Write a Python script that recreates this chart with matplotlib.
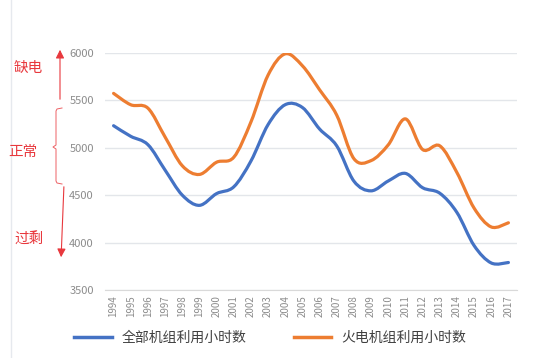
import matplotlib.pyplot as plt
from matplotlib.path import Path
from matplotlib.patches import PathPatch, FancyArrowPatch
import matplotlib.lines as mlines

plt.rcParams['font.family'] = ['Noto Sans CJK SC', 'DejaVu Sans']

years = list(range(1994, 2018))
all_units = [5233, 5121, 5033, 4765, 4501, 4393, 4517, 4588, 4860, 5245, 5455, 5425,
             5198, 5020, 4648, 4546, 4650, 4730, 4579, 4521, 4318, 3969, 3785, 3790]
thermal = [5574, 5454, 5418, 5114, 4811, 4719, 4848, 4900, 5272, 5767, 5991, 5865,
           5612, 5344, 4885, 4865, 5031, 5305, 4982, 5021, 4739, 4364, 4165, 4209]
y_ticks = [3500, 4000, 4500, 5000, 5500, 6000]
series_names = ["全部机组利用小时数", "火电机组利用小时数"]
zone_labels = ["缺电", "正常", "过剩"]

BLUE = "#4472c4"
ORANGE = "#ed7d31"
RED = "#e8383d"
W, H = 542, 358


def smooth_path(xs, ys):
    # Catmull-Rom style bezier through the data points (like Excel's smoothed line)
    pts = list(zip(xs, ys))
    verts = [pts[0]]
    codes = [Path.MOVETO]
    n = len(pts)
    for i in range(n - 1):
        p0 = pts[i - 1] if i > 0 else pts[i]
        p1 = pts[i]
        p2 = pts[i + 1]
        p3 = pts[i + 2] if i + 2 < n else pts[i + 1]
        c1 = (p1[0] + (p2[0] - p0[0]) / 6, p1[1] + (p2[1] - p0[1]) / 6)
        c2 = (p2[0] - (p3[0] - p1[0]) / 6, p2[1] - (p3[1] - p1[1]) / 6)
        verts += [c1, c2, p2]
        codes += [Path.CURVE4] * 3
    return Path(verts, codes)


def px(x, y):
    return (x / W, 1 - y / H)


fig = plt.figure(figsize=(W / 100, H / 100), dpi=100)
ax = fig.add_axes([105 / W, 1 - 290 / H, 412 / W, 237 / H])

for vals, col in [(all_units, BLUE), (thermal, ORANGE)]:
    ax.add_patch(PathPatch(smooth_path(years, vals), facecolor="none",
                           edgecolor=col, lw=2.3, capstyle="round", zorder=3))

ax.set_xlim(1993.5, 2017.5)
ax.set_ylim(3500, 6000)
ax.set_yticks(y_ticks)
ax.set_xticks(years)
ax.set_xticklabels([str(y) for y in years], rotation=90)
ax.tick_params(axis="both", length=0, colors="#8c8c8c")
ax.tick_params(axis="y", pad=8, labelsize=8)
ax.tick_params(axis="x", pad=4, labelsize=7)
ax.grid(axis="y", color="#e3e6ea", lw=1)
for s in ["top", "right", "left"]:
    ax.spines[s].set_visible(False)
ax.spines["bottom"].set_color("#d9d9d9")
ax.set_axisbelow(True)

# legend
h1 = mlines.Line2D([], [], color=BLUE, lw=2.5)
h2 = mlines.Line2D([], [], color=ORANGE, lw=2.5)
fig.legend([h1, h2], series_names, loc="center", bbox_to_anchor=px(270, 338),
           ncol=2, frameon=False, fontsize=10, handlelength=2.7, handletextpad=0.7,
           columnspacing=3.4, labelcolor="#404040")

# left zone annotations
fig.add_artist(mlines.Line2D([11 / W, 11 / W], [0, 1], color="#e6e9ee", lw=1))
tf = fig.transFigure
fig.text(*px(28, 68), zone_labels[0], color=RED, fontsize=10.5, ha="center", va="center")
fig.text(*px(23, 152), zone_labels[1], color=RED, fontsize=10.5, ha="center", va="center")
fig.text(*px(29, 240), zone_labels[2], color=RED, fontsize=10.5, ha="center", va="center")

fig.add_artist(FancyArrowPatch(
    px(60, 102), px(60, 47), transform=tf, arrowstyle="-|>,head_length=5,head_width=2.5",
    color=RED, lw=0.8, mutation_scale=1))
fig.add_artist(FancyArrowPatch(
    px(64, 184), px(61, 260), transform=tf, arrowstyle="-|>,head_length=5,head_width=2.5",
    color=RED, lw=0.8, mutation_scale=1))

# brace for the normal zone
bx = [62, 57, 56, 56, 53, 56, 56, 57, 62]
by = [108, 109, 111, 145, 147, 149, 181, 183, 184]
fig.add_artist(mlines.Line2D([x / W for x in bx], [1 - y / H for y in by],
                             color=RED, lw=0.7, alpha=0.8))

fig.savefig("out.png", dpi=100)
